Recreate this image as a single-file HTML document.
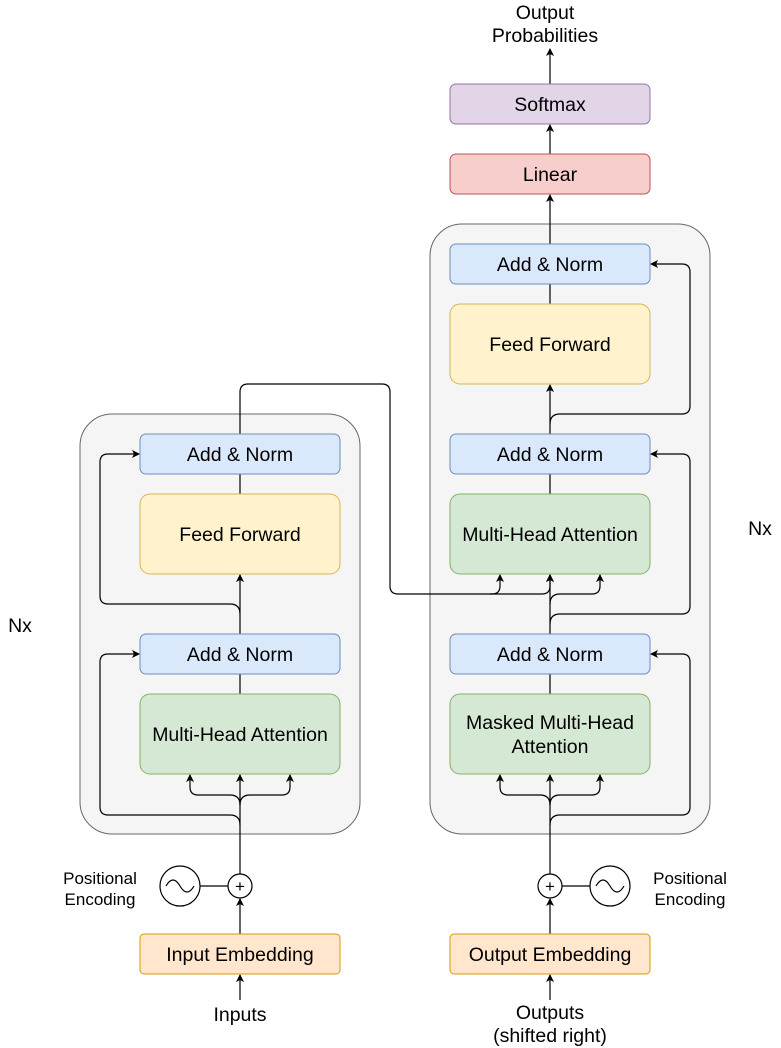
<!DOCTYPE html>
<html><head><meta charset="utf-8"><style>body{margin:0;background:#fff}svg{display:block}text{font-family:"Liberation Sans",Arial,sans-serif;fill:#000}</style></head>
<body>
<svg width="781" height="1048" viewBox="0 0 781 1048" xmlns="http://www.w3.org/2000/svg">
<defs><marker id="a" markerWidth="8" markerHeight="8" refX="7" refY="4" orient="auto" markerUnits="userSpaceOnUse"><path d="M0,0 L8,4 L0,8 L2,4z" fill="#000"/></marker></defs>
<rect x="80" y="414" width="280" height="420" rx="32" fill="#f5f5f5" stroke="#666"/>
<rect x="430" y="224" width="280" height="610" rx="32" fill="#f5f5f5" stroke="#666"/>
<g stroke="#000" stroke-width="1.2" fill="none">
<path d="M240 974 V899" marker-end="url(#a)"/>
<path d="M240 874 V775" marker-end="url(#a)"/>
<path d="M240 805 Q240 795 230 795 H198 Q190 795 190 787 V775" marker-end="url(#a)"/>
<path d="M240 805 Q240 795 250 795 H282 Q290 795 290 787 V775" marker-end="url(#a)"/>
<path d="M240 825 Q240 815 230 815 H108 Q100 815 100 807 V662 Q100 654 108 654 H139" marker-end="url(#a)"/>
<path d="M240 694 V674"/>
<path d="M240 634 V575" marker-end="url(#a)"/>
<path d="M240 614 Q240 604 230 604 H108 Q100 604 100 596 V462 Q100 454 108 454 H139" marker-end="url(#a)"/>
<path d="M240 494 V474"/>
<path d="M240 434 V392 Q240 384 248 384 H382 Q390 384 390 392 V586 Q390 594 398 594 H492 Q500 594 500 586 V575" marker-end="url(#a)"/>
<path d="M490 594 H542 Q550 594 550 586 V575" marker-end="url(#a)"/>
<path d="M200 886 H228"/>
<circle cx="180" cy="886" r="20" fill="#fff"/>
<path d="M166 886 Q173 874 180 886 T194 886"/>
<circle cx="240" cy="886" r="12" fill="#fff"/>
<path d="M550 974 V899" marker-end="url(#a)"/>
<path d="M550 874 V775" marker-end="url(#a)"/>
<path d="M550 805 Q550 795 540 795 H508 Q500 795 500 787 V775" marker-end="url(#a)"/>
<path d="M550 805 Q550 795 560 795 H592 Q600 795 600 787 V775" marker-end="url(#a)"/>
<path d="M550 825 Q550 815 560 815 H682 Q690 815 690 807 V662 Q690 654 682 654 H651" marker-end="url(#a)"/>
<path d="M550 694 V674"/>
<path d="M550 634 V575" marker-end="url(#a)"/>
<path d="M550 604 Q550 594 560 594 H592 Q600 594 600 586 V575" marker-end="url(#a)"/>
<path d="M550 624 Q550 614 560 614 H682 Q690 614 690 606 V462 Q690 454 682 454 H651" marker-end="url(#a)"/>
<path d="M550 494 V474"/>
<path d="M550 434 V385" marker-end="url(#a)"/>
<path d="M550 424 Q550 414 560 414 H682 Q690 414 690 406 V272 Q690 264 682 264 H651" marker-end="url(#a)"/>
<path d="M550 304 V284"/>
<path d="M550 244 V195" marker-end="url(#a)"/>
<path d="M550 154 V125" marker-end="url(#a)"/>
<path d="M550 84 V49" marker-end="url(#a)"/>
<path d="M562 886 H590"/>
<circle cx="610" cy="886" r="20" fill="#fff"/>
<path d="M596 886 Q603 874 610 886 T624 886"/>
<circle cx="550" cy="886" r="12" fill="#fff"/>
<path d="M240 1000 V975" marker-end="url(#a)"/>
<path d="M550 1000 V975" marker-end="url(#a)"/>
</g>
<g font-size="17" text-anchor="middle"><text x="240" y="892">+</text><text x="550" y="892">+</text></g>
<g stroke-width="1">
<rect x="140" y="434" width="200" height="40" rx="6" fill="#dae8fc" stroke="#6c8ebf"/>
<rect x="140" y="494" width="200" height="80" rx="10" fill="#fff2cc" stroke="#d6b656"/>
<rect x="140" y="634" width="200" height="40" rx="6" fill="#dae8fc" stroke="#6c8ebf"/>
<rect x="140" y="694" width="200" height="80" rx="10" fill="#d5e8d4" stroke="#82b366"/>
<rect x="450" y="244" width="200" height="40" rx="6" fill="#dae8fc" stroke="#6c8ebf"/>
<rect x="450" y="304" width="200" height="80" rx="10" fill="#fff2cc" stroke="#d6b656"/>
<rect x="450" y="434" width="200" height="40" rx="6" fill="#dae8fc" stroke="#6c8ebf"/>
<rect x="450" y="494" width="200" height="80" rx="10" fill="#d5e8d4" stroke="#82b366"/>
<rect x="450" y="634" width="200" height="40" rx="6" fill="#dae8fc" stroke="#6c8ebf"/>
<rect x="450" y="694" width="200" height="80" rx="10" fill="#d5e8d4" stroke="#82b366"/>
<rect x="450" y="154" width="200" height="40" rx="6" fill="#f8cecc" stroke="#b85450"/>
<rect x="450" y="84" width="200" height="40" rx="6" fill="#e1d5e7" stroke="#9673a6"/>
<rect x="140" y="934" width="200" height="40" rx="4" fill="#ffe6cc" stroke="#d79b00"/>
<rect x="450" y="934" width="200" height="40" rx="4" fill="#ffe6cc" stroke="#d79b00"/>
</g>
<g font-size="19.5" text-anchor="middle">
<text x="240" y="461">Add &amp; Norm</text>
<text x="240" y="541">Feed Forward</text>
<text x="240" y="661">Add &amp; Norm</text>
<text x="240" y="741">Multi-Head Attention</text>
<text x="550" y="271">Add &amp; Norm</text>
<text x="550" y="351">Feed Forward</text>
<text x="550" y="461">Add &amp; Norm</text>
<text x="550" y="541">Multi-Head Attention</text>
<text x="550" y="661">Add &amp; Norm</text>
<text x="550" y="729">Masked Multi-Head</text>
<text x="550" y="753">Attention</text>
<text x="550" y="181">Linear</text>
<text x="550" y="111">Softmax</text>
<text x="240" y="961">Input Embedding</text>
<text x="550" y="961">Output Embedding</text>
<text x="545" y="19">Output</text>
<text x="545" y="42">Probabilities</text>
<text x="240" y="1021">Inputs</text>
<text x="550" y="1019">Outputs</text>
<text x="550" y="1042">(shifted right)</text>
<text x="20" y="632">Nx</text>
<text x="760" y="535">Nx</text>
</g>
<g font-size="17" text-anchor="middle">
<text x="100" y="884">Positional</text><text x="100" y="905">Encoding</text>
<text x="690" y="884">Positional</text><text x="690" y="905">Encoding</text>
</g>
</svg>
</body></html>
